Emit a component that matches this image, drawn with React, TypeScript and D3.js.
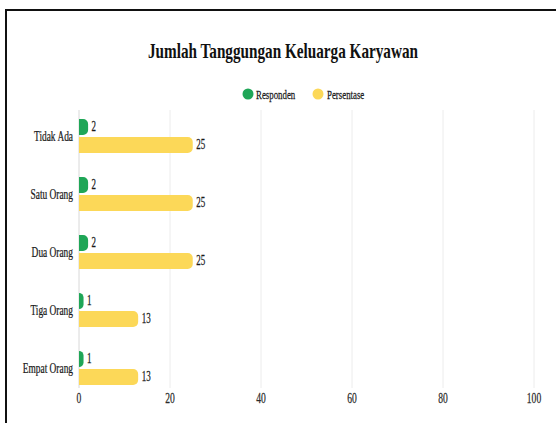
import React from "react";
import * as d3 from "d3";

const categories = ["Tidak Ada", "Satu Orang", "Dua Orang", "Tiga Orang", "Empat Orang"];
const responden = [2, 2, 2, 1, 1];
const persentase = [25, 25, 25, 13, 13];
const xTicks = [0, 20, 40, 60, 80, 100];
const seriesNames = ["Responden", "Persentase"];
const colors = ["#1fa657", "#fcd858"];

const W = 556;
const H = 423;
const FONT = "'Liberation Serif', 'Times New Roman', serif";

function rightRoundedBar(x0: number, x1: number, y: number, h: number, r: number) {
  const w = Math.max(0, x1 - x0);
  const rr = Math.min(r, w, h / 2);
  const p = d3.path();
  p.moveTo(x0, y);
  p.lineTo(x1 - rr, y);
  p.arcTo(x1, y, x1, y + rr, rr);
  p.lineTo(x1, y + h - rr);
  p.arcTo(x1, y + h, x1 - rr, y + h, rr);
  p.lineTo(x0, y + h);
  p.closePath();
  return p.toString();
}

function CText({ x, y, anchor = "start", size, sx = 0.66, children, fill = "#1a1a1a", weight = "normal" }: any) {
  return (
    <text
      transform={`translate(${x},${y}) scale(${sx},1)`}
      textAnchor={anchor}
      dominantBaseline="central"
      fontFamily={FONT}
      fontSize={size}
      fontWeight={weight}
      fill={fill}
      stroke={fill}
      strokeWidth={0.25}
    >
      {children}
    </text>
  );
}

export default function App() {
  const x = d3.scaleLinear().domain([0, 100]).range([79, 534]);
  const y = d3.scaleBand().domain(categories).range([107, 397]).padding(0);
  const barH = 16;
  const gridTop = 110;
  const gridBottom = 388;

  return (
    <svg
      width={W}
      height={H}
      style={{ position: "absolute", left: 0, top: 0, background: "#fff" }}
    >
      <rect x={0} y={0} width={W} height={H} fill="#fff" />
      {/* frame */}
      <line x1={6} y1={10} x2={W} y2={10} stroke="#111" strokeWidth={2} />
      <line x1={6} y1={9} x2={6} y2={H} stroke="#111" strokeWidth={2} />

      {/* title */}
      <text
        x={283}
        y={51}
        textAnchor="middle"
        dominantBaseline="central"
        fontFamily={FONT}
        fontSize={21}
        fontWeight="bold"
        fill="#111"
        textLength={270}
        lengthAdjust="spacingAndGlyphs"
      >
        Jumlah Tanggungan Keluarga Karyawan
      </text>

      {/* legend */}
      <circle cx={248} cy={94} r={5.5} fill={colors[0]} />
      <CText x={256} y={94} size={13} sx={0.68}>{seriesNames[0]}</CText>
      <circle cx={318} cy={94} r={5.5} fill={colors[1]} />
      <CText x={327} y={94} size={13} sx={0.68}>{seriesNames[1]}</CText>

      {/* gridlines */}
      {xTicks.map((t) => (
        <line
          key={"g" + t}
          x1={x(t)}
          x2={x(t)}
          y1={gridTop}
          y2={gridBottom}
          stroke={t === 0 ? "#d8d8d8" : "#ececec"}
          strokeWidth={1}
        />
      ))}

      {/* tick labels */}
      {xTicks.map((t) => (
        <CText key={"t" + t} x={x(t)} y={398} anchor="middle" size={14.5} sx={0.66} fill="#2a2a2a">
          {t}
        </CText>
      ))}

      {/* categories and bars */}
      {categories.map((c, i) => {
        const cy = (y(c) as number) + y.bandwidth() / 2;
        return (
          <g key={c}>
            <CText x={73} y={cy} anchor="end" size={14} sx={0.67}>{c}</CText>
            <path
              d={rightRoundedBar(x(0), x(responden[i]), cy - 17, barH, 5)}
              fill={colors[0]}
            />
            <path
              d={rightRoundedBar(x(0), x(persentase[i]), cy + 1, barH, 5)}
              fill={colors[1]}
            />
            <CText x={x(responden[i]) + 3.5} y={cy - 9} size={14} sx={0.64}>{responden[i]}</CText>
            <CText x={x(persentase[i]) + 3.5} y={cy + 9} size={14} sx={0.64}>{persentase[i]}</CText>
          </g>
        );
      })}
    </svg>
  );
}
